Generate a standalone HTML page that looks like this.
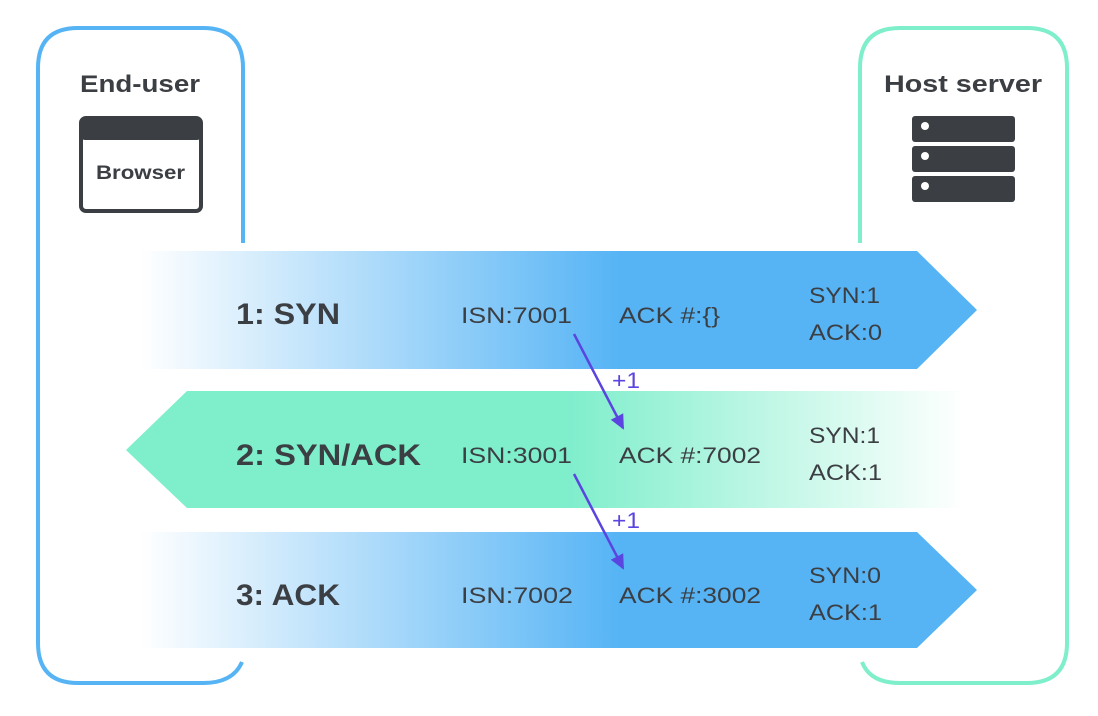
<!DOCTYPE html>
<html><head><style>
html,body{margin:0;padding:0;background:#fff}
svg{display:block}
text{font-family:"Liberation Sans",sans-serif;fill:#3b3e42}
</style></head><body>
<svg width="1098" height="716" viewBox="0 0 1098 716" xmlns="http://www.w3.org/2000/svg">
<defs>
<linearGradient id="gb" x1="0" x2="1" y1="0" y2="0" gradientUnits="userSpaceOnUse" gradientTransform="translate(140,0) scale(480,1)">
<stop offset="0" stop-color="#56b4f5" stop-opacity="0"/>
<stop offset="1" stop-color="#56b4f5" stop-opacity="1"/>
</linearGradient>
<linearGradient id="gg" x1="0" x2="1" y1="0" y2="0" gradientUnits="userSpaceOnUse" gradientTransform="translate(965,0) scale(-400,1)">
<stop offset="0" stop-color="#7eeecb" stop-opacity="0"/>
<stop offset="1" stop-color="#7eeecb" stop-opacity="1"/>
</linearGradient>
<marker id="ah" markerWidth="16" markerHeight="16" refX="13" refY="8" orient="auto" markerUnits="userSpaceOnUse">
<path d="M0,1 L15,8 L0,15 Z" fill="#5a45e0"/>
</marker>
</defs>
<path d="M243,243 L243,68 Q243,28 203,28 L78,28 Q38,28 38,68 L38,643 Q38,683 78,683 L203,683 Q233,683 242,662" fill="none" stroke="#56b4f5" stroke-width="4"/>
<path d="M860,243 L860,68 Q860,28 900,28 L1027,28 Q1067,28 1067,68 L1067,643 Q1067,683 1027,683 L900,683 Q870,683 862,662" fill="none" stroke="#7eeecb" stroke-width="4"/>
<text x="80" y="92" font-size="24" font-weight="bold" textLength="120" lengthAdjust="spacingAndGlyphs">End-user</text>
<text x="884" y="92" font-size="24" font-weight="bold" textLength="158" lengthAdjust="spacingAndGlyphs">Host server</text>
<rect x="81" y="118" width="120" height="93" rx="5" fill="#fff" stroke="#3b3e42" stroke-width="4"/>
<rect x="81" y="118" width="120" height="22" rx="4" fill="#3b3e42"/>
<text x="96" y="179" font-size="19" font-weight="bold" textLength="89" lengthAdjust="spacingAndGlyphs">Browser</text>
<g fill="#3b3e42">
<rect x="912" y="116" width="103" height="26" rx="3"/>
<rect x="912" y="146" width="103" height="26" rx="3"/>
<rect x="912" y="176" width="103" height="26" rx="3"/>
</g>
<g fill="#fff"><circle cx="925" cy="126" r="4"/><circle cx="925" cy="156" r="4"/><circle cx="925" cy="186" r="4"/></g>
<path d="M140,251 L917,251 L977,310 L917,369 L140,369 Z" fill="url(#gb)"/>
<path d="M965,391 L187,391 L126,450 L187,508 L965,508 Z" fill="url(#gg)"/>
<path d="M140,532 L917,532 L977,590 L917,648 L140,648 Z" fill="url(#gb)"/>
<g font-size="30" font-weight="bold">
<text x="236" y="324" textLength="104" lengthAdjust="spacingAndGlyphs">1: SYN</text>
<text x="236" y="465" textLength="185" lengthAdjust="spacingAndGlyphs">2: SYN/ACK</text>
<text x="236" y="605" textLength="104" lengthAdjust="spacingAndGlyphs">3: ACK</text>
</g>
<g font-size="22">
<text x="461" y="323" textLength="111" lengthAdjust="spacingAndGlyphs">ISN:7001</text>
<text x="619" y="323" textLength="101" lengthAdjust="spacingAndGlyphs">ACK #:{}</text>
<text x="809" y="303" textLength="71" lengthAdjust="spacingAndGlyphs">SYN:1</text>
<text x="809" y="340" textLength="73" lengthAdjust="spacingAndGlyphs">ACK:0</text>
<text x="461" y="463" textLength="111" lengthAdjust="spacingAndGlyphs">ISN:3001</text>
<text x="619" y="463" textLength="142" lengthAdjust="spacingAndGlyphs">ACK #:7002</text>
<text x="809" y="443" textLength="71" lengthAdjust="spacingAndGlyphs">SYN:1</text>
<text x="809" y="480" textLength="73" lengthAdjust="spacingAndGlyphs">ACK:1</text>
<text x="461" y="603" textLength="112" lengthAdjust="spacingAndGlyphs">ISN:7002</text>
<text x="619" y="603" textLength="142" lengthAdjust="spacingAndGlyphs">ACK #:3002</text>
<text x="809" y="583" textLength="72" lengthAdjust="spacingAndGlyphs">SYN:0</text>
<text x="809" y="620" textLength="73" lengthAdjust="spacingAndGlyphs">ACK:1</text>
</g>
<line x1="574" y1="334" x2="623" y2="428" stroke="#5a45e0" stroke-width="2.5" marker-end="url(#ah)"/>
<line x1="574" y1="474" x2="623" y2="568" stroke="#5a45e0" stroke-width="2.5" marker-end="url(#ah)"/>
<text x="612" y="388" font-size="22" style="fill:#5a45e0" textLength="28" lengthAdjust="spacingAndGlyphs">+1</text>
<text x="612" y="528" font-size="22" style="fill:#5a45e0" textLength="28" lengthAdjust="spacingAndGlyphs">+1</text>
</svg>
</body></html>
